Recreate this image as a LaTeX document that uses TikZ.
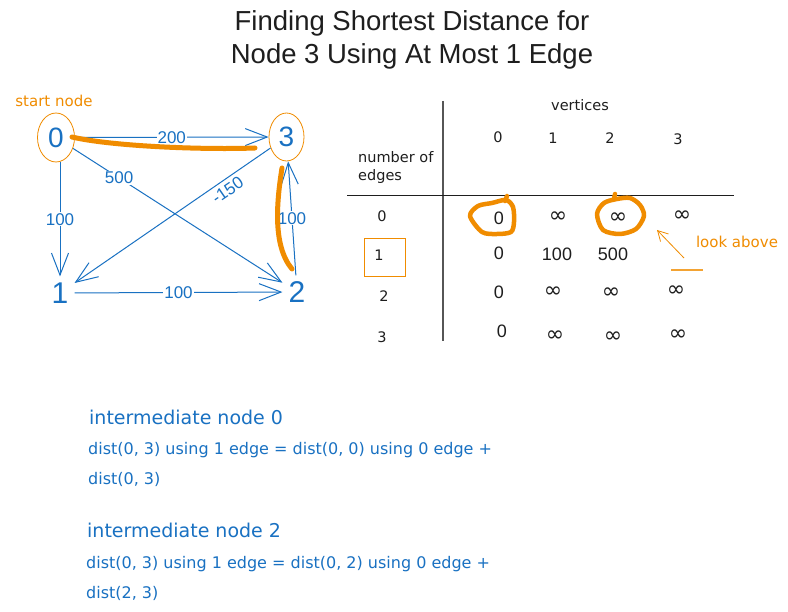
\documentclass[tikz,border=0pt]{standalone}
\usepackage{fontspec}
\setmainfont{Liberation Sans}
\newfontfamily\handf{DejaVu Sans}
\newfontfamily\symf{DejaVu Sans}
\usetikzlibrary{arrows.meta,shapes.geometric}
\definecolor{exblue}{HTML}{1971C2}
\definecolor{exorange}{HTML}{F08C00}
\definecolor{exdark}{HTML}{1E1E1E}
\begin{document}
\begin{tikzpicture}[x=1pt,y=-1pt,
  ring/.style={ellipse, draw=exorange, line width=0.8pt, inner sep=0pt, text=exblue, font=\fontsize{28}{28}\selectfont},
  gnode/.style={text=exblue, inner sep=6pt, font=\fontsize{30}{30}\selectfont},
  edge/.style={draw=exblue, line width=1pt, -{Straight Barb[length=22pt,width=17pt,line width=1pt]}},
  elabel/.style={text=exblue, fill=white, inner sep=1pt, font=\fontsize{17}{17}\selectfont},
  hl/.style={draw=exorange, line width=5pt, line cap=round, line join=round},
  hand/.style={font=\handf\fontsize{14.5}{14.5}\selectfont, text=exdark},
  handor/.style={font=\handf\fontsize{15}{15}\selectfont, text=exorange},
  handbl/.style={font=\handf\fontsize{16}{16}\selectfont, text=exblue, anchor=base west, inner sep=0pt},
  handhd/.style={font=\handf\fontsize{19}{19}\selectfont, text=exblue, anchor=base west, inner sep=0pt},
  cell/.style={font=\fontsize{18}{18}\selectfont, text=exdark},
  infc/.style={font=\symf\fontsize{22}{22}\selectfont, text=exdark},
  titlef/.style={font=\fontsize{27.5}{33}\selectfont, text=exdark, align=center}
]
\useasboundingbox (0,0) rectangle (788,612);
\fill[white] (0,0) rectangle (788,612);

% title
\node[titlef] (title) at (412,40) {Finding Shortest Distance for\\Node 3 Using At Most 1 Edge};

% graph
\node[handor] (start) at (54,101) {start node};
\node[ring, minimum width=37pt, minimum height=49pt] (n0) at (56,137.5) {0};
\node[ring, minimum width=35pt, minimum height=48pt] (n3) at (286.5,137) {3};
\node[gnode] (n1) at (60,293) {1};
\node[gnode] (n2) at (297,292) {2};

\draw[edge] (n0) -- node[elabel]{200} (n3);
\draw[edge] (n0) -- node[elabel,pos=0.22]{500} (n2);
\draw[edge] (n3) -- node[elabel,pos=0.25,sloped,below=3pt,fill=none]{-150} (n1);
\draw[edge] (n0.south -| n1) -- node[elabel]{100} (n1);
\draw[edge] (n2) -- node[elabel]{100} (n3);
\draw[edge] (n1) -- node[elabel]{100} (n2);

\draw[hl] (72,137) .. controls (110,146) and (200,150) .. (255,148);
\draw[hl] (282,168) .. controls (277,200) and (272,245) .. (292,269);

% table
\node[hand] (vert) at (580,105) {vertices};
\node[hand] (c0) at (498,137) {0};
\node[hand] (c1) at (553,138) {1};
\node[hand] (c2) at (610,138) {2};
\node[hand] (c3) at (678,139) {3};
\node[hand, anchor=west, inner sep=0pt] (noe1) at (358,157) {number of};
\node[hand, anchor=west, inner sep=0pt] (noe2) at (358,177) {edges};
\draw[exdark!75, line width=1.4pt] (443,101) -- (443,341);
\draw[exdark, line width=1pt] (347,196) -- (734,196);

\node[hand] (r0) at (382,216) {0};
\node[draw=exorange, line width=0.9pt, minimum width=41pt, minimum height=38pt] (r1box) at (384.5,257) {};
\node[hand] (r1) at (379,255) {1};
\node[hand] (r2) at (384,296) {2};
\node[hand] (r3) at (382,337) {3};

\node[cell] (a00) at (499,218) {0};
\node[infc] (a01) at (558,217) {∞};
\node[infc] (a02) at (618,218) {∞};
\node[infc] (a03) at (682,216) {∞};
\node[cell] (a10) at (499,253) {0};
\node[cell] (a11) at (557,254) {100};
\node[cell] (a12) at (613,254) {500};
\node[cell] (a20) at (499,292) {0};
\node[infc] (a21) at (553,292) {∞};
\node[infc] (a22) at (611,293) {∞};
\node[infc] (a23) at (676,291) {∞};
\node[cell] (a30) at (502,331) {0};
\node[infc] (a31) at (555,336) {∞};
\node[infc] (a32) at (613,337) {∞};
\node[infc] (a33) at (678,335) {∞};

% circles
\draw[hl, line width=4.5pt] plot[smooth cycle] coordinates {(470,216) (478,206) (492,203) (506,200) (513,207) (514,222) (511,232) (497,234) (482,232)};
\draw[hl, line width=4.5pt] (505,201) -- (507,196);
\draw[hl, line width=4.5pt] plot[smooth cycle] coordinates {(597,214) (604,203) (617,199) (630,198) (640,205) (644,216) (636,229) (620,234) (603,230)};
\draw[hl, line width=4.5pt] (614,199) -- (615,194);

\node[handor] (look) at (737,242) {look above};
\coordinate (la1) at (684,258);
\coordinate (la2) at (657,230);
\draw[exorange, line width=0.8pt, -{Straight Barb[length=10pt,width=11pt,line width=0.8pt]}] (la1) -- (la2);
\coordinate (u1) at (671,270);
\coordinate (u2) at (703,270);
\draw[exorange!80, line width=1.3pt] (u1) -- (u2);

% bottom text
\node[handhd] (h0) at (89,425) {intermediate node 0};
\node[handbl] (l1) at (88,455) {dist(0, 3) using 1 edge = dist(0, 0) using 0 edge +};
\node[handbl] (l2) at (88,485) {dist(0, 3)};
\node[handhd] (h2) at (87,537) {intermediate node 2};
\node[handbl] (l3) at (86,568) {dist(0, 3) using 1 edge = dist(0, 2) using 0 edge +};
\node[handbl] (l4) at (86,598) {dist(2, 3)};
\end{tikzpicture}
\end{document}
